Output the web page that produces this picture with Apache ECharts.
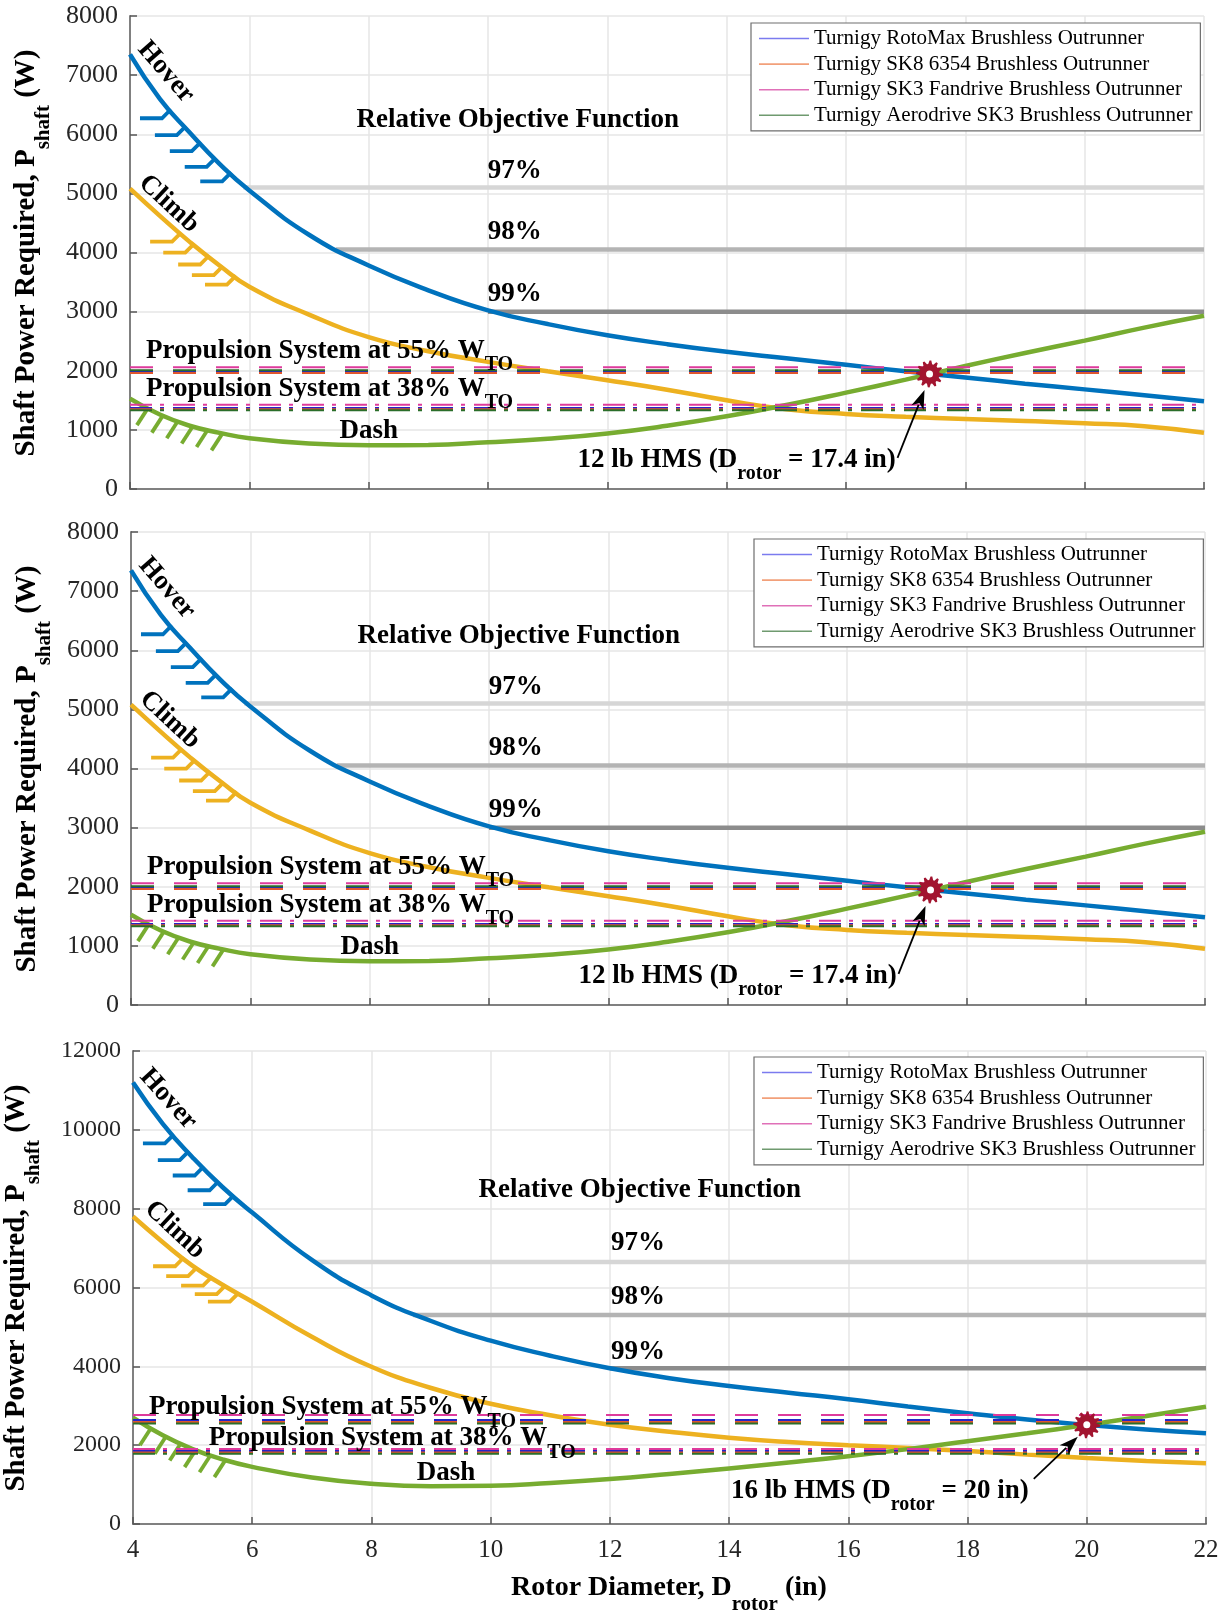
<!DOCTYPE html>
<html>
<head>
<meta charset="utf-8">
<title>Shaft power required vs rotor diameter</title>
<script src="https://cdn.jsdelivr.net/npm/echarts@6/dist/echarts.min.js"></script>
<style>
  html, body { margin: 0; padding: 0; background: #fff; }
  #chart { width: 1225px; height: 1614px; }
</style>
</head>
<body>
<div id="chart"></div>
<script>
// ---------------- data ----------------
const diameters = [4, 4.5, 5, 5.5, 6, 7, 8, 9, 10, 11, 12, 13, 14, 15, 16, 17, 18, 19, 20, 21, 22];

// 12 lb vehicle (upper two panels)
const hover12 = [7350, 6600, 6030, 5500, 5050, 4300, 3780, 3360, 3020, 2790, 2600, 2450, 2320, 2210, 2100, 1990, 1886, 1782, 1685, 1585, 1483];
const climb12 = [5080, 4620, 4180, 3780, 3420, 2950, 2570, 2330, 2150, 1990, 1840, 1680, 1500, 1350, 1270, 1222, 1185, 1150, 1112, 1060, 950];
const dash12  = [1530, 1260, 1070, 950, 860, 770, 740, 745, 790, 850, 940, 1070, 1230, 1420, 1630, 1850, 2080, 2300, 2510, 2730, 2930];

// 16 lb vehicle (lower panel)
const hover16 = [11200, 10150, 9300, 8550, 7900, 6700, 5800, 5150, 4650, 4270, 3950, 3700, 3500, 3330, 3165, 2980, 2810, 2650, 2515, 2395, 2300];
const climb16 = [7800, 7150, 6550, 6070, 5640, 4750, 3990, 3450, 3050, 2760, 2520, 2340, 2190, 2080, 2000, 1930, 1850, 1760, 1675, 1600, 1540];
const dash16  = [2700, 2250, 1900, 1640, 1450, 1180, 1020, 960, 970, 1040, 1140, 1270, 1410, 1560, 1720, 1900, 2100, 2300, 2515, 2740, 2975];

// relative objective function levels
const objLabels = ['97%', '98%', '99%'];
const objLevels12 = [5100, 4050, 3000];
const objStart12  = [5.9, 7.45, 10.0];
const objLevels16 = [6650, 5300, 3950];
const objStart16  = [7.05, 8.7, 12.0];

// motors: available shaft power at two propulsion weight fractions
const motorNames = [
  'Turnigy RotoMax Brushless Outrunner',
  'Turnigy SK8 6354 Brushless Outrunner',
  'Turnigy SK3 Fandrive Brushless Outrunner',
  'Turnigy Aerodrive SK3 Brushless Outrunner'
];
const propFractions = [55, 38];
const motor55_12 = [1985, 1960, 2060, 2010];
const motor38_12 = [1372, 1350, 1425, 1330];
const motor55_16 = [2640, 2590, 2765, 2550];
const motor38_16 = [1850, 1815, 1905, 1780];

// selected design points
const hmsLabels = ['12 lb HMS', '12 lb HMS', '16 lb HMS'];
const hmsDiam  = [17.4, 17.4, 20];
const hmsPower = [1946, 1946, 2515];

// x positions of constraint hatch marks
const hatchHover = [4.67, 4.92, 5.17, 5.42, 5.68];
const hatchClimb = [4.84, 5.06, 5.31, 5.54, 5.76];
const hatchDash  = [4.3, 4.55, 4.8, 5.05, 5.3, 5.55];

// ---------------- styling ----------------
const FONT = 'Liberation Serif';
const C_HOVER = '#0072BD', C_CLIMB = '#EDB120', C_DASH = '#77AC30', C_PT = '#A2142F';
const motorColors  = ['#2424c8', '#e0562e', '#de3a9c', '#2a6e2a'];
const legendColors = ['#7b7bef', '#f2a07a', '#e070b8', '#6f9a6f'];
const objColors = ['#d6d6d6', '#b4b4b4', '#8c8c8c'];

const grids = [
  { left: 130, top: 16,   width: 1074, height: 473 },
  { left: 131, top: 532,  width: 1074, height: 473 },
  { left: 133, top: 1051, width: 1073, height: 473 }
];
const legendPos = [[751, 23], [754, 539], [754, 1057]];

function rich(size, subSize, shift) {
  return {
    m: { fontFamily: FONT, fontWeight: 'bold', fontSize: size, lineHeight: 50, fill: '#000' },
    s: { fontFamily: FONT, fontWeight: 'bold', fontSize: subSize, lineHeight: 50, padding: [shift * 2, 0, 0, 0], fill: '#000' }
  };
}
const RICH_ANN = rich(27, 20, 14.5);

const panels = [
  { hover: hover12, climb: climb12, dash: dash12, objL: objLevels12, objS: objStart12,
    m55: motor55_12, m38: motor38_12, ymax: 8000, yint: 1000, tick: 26,
    arrow: { tip: [-5, 16], tail: [-32, 84] },
    text: { hover: [4.60, 7053, -49], climb: [4.65, 4823, -43], rel: [10.5, 6236],
            obj: [[10.45, 5383], [10.45, 4340], [10.45, 3296]],
            p55: [4.27, 2340], p38: [4.27, 1696], dash: [8.0, 988], hms: [11.5, 498] } },
  null,
  { hover: hover16, climb: climb16, dash: dash16, objL: objLevels16, objS: objStart16,
    m55: motor55_16, m38: motor38_16, ymax: 12000, yint: 2000, tick: 24,
    arrow: { tip: [-9, 12], tail: [-53, 54] },
    text: { hover: [4.59, 10781, -48], climb: [4.70, 7458, -43], rel: [12.5, 8473],
            obj: [[12.47, 7116], [12.47, 5758], [12.47, 4373]],
            p55: [4.27, 2968], p38: [5.27, 2182], dash: [9.25, 1294], hms: [14.03, 847] } }
];
panels[1] = panels[0];

function interp(xs, ys, x) {
  for (let i = 0; i < xs.length - 1; i++) {
    if (x >= xs[i] && x <= xs[i + 1]) {
      const t = (x - xs[i]) / (xs[i + 1] - xs[i]);
      return ys[i] + t * (ys[i + 1] - ys[i]);
    }
  }
  return ys[ys.length - 1];
}

// gear-shaped marker outline (pixel offsets)
const gearPts = [];
(function () {
  const teeth = 12, n = teeth * 4;
  for (let k = 0; k < n; k++) {
    const a = (k / n) * Math.PI * 2;
    const r = (k % 4 === 0 || k % 4 === 1) ? 13.5 : 10;
    gearPts.push([r * Math.cos(a), r * Math.sin(a)]);
  }
})();

const xAxes = [], yAxes = [], series = [];
const plainNumber = v => String(v);

grids.forEach((g, gi) => {
  const P = panels[gi];
  xAxes.push({
    type: 'value', gridIndex: gi, min: 4, max: 22, interval: 2,
    axisLine: { show: true, onZero: false, lineStyle: { color: '#808080', width: 2 } },
    axisTick: { show: true, inside: true, length: 7, lineStyle: { color: '#555', width: 1.5 } },
    splitLine: { show: true, lineStyle: { color: '#e6e6e6', width: 1.5 } },
    axisLabel: { show: gi === 2, fontFamily: FONT, fontSize: 25, color: '#262626', margin: 14, formatter: plainNumber }
  });
  yAxes.push({
    type: 'value', gridIndex: gi, min: 0, max: P.ymax, interval: P.yint,
    axisLine: { show: true, lineStyle: { color: '#808080', width: 2 } },
    axisTick: { show: true, inside: true, length: 7, lineStyle: { color: '#555', width: 1.5 } },
    splitLine: { show: true, lineStyle: { color: '#e6e6e6', width: 1.5 } },
    axisLabel: { fontFamily: FONT, fontSize: P.tick, color: '#262626', margin: 12, formatter: plainNumber }
  });

  const base = { xAxisIndex: gi, yAxisIndex: gi, silent: true, animation: false };

  // objective-function levels
  P.objL.forEach((lv, k) => {
    series.push(Object.assign({}, base, {
      type: 'line', name: 'obj' + objLabels[k], symbol: 'none', z: 2,
      data: [[P.objS[k], lv], [22, lv]],
      lineStyle: { color: objColors[k], width: 4.5 }
    }));
  });

  // required-power curves
  [[P.hover, C_HOVER, 'Hover'], [P.climb, C_CLIMB, 'Climb'], [P.dash, C_DASH, 'Dash']].forEach(([ys, col, nm]) => {
    series.push(Object.assign({}, base, {
      type: 'line', name: nm, symbol: 'none', z: 3, smooth: 0.5,
      data: diameters.map((d, i) => [d, ys[i]]),
      lineStyle: { color: col, width: 4.5 }
    }));
  });

  // hatch marks on the infeasible side of each constraint
  const hatchDefs = [
    { xs: hatchHover, ys: P.hover, col: C_HOVER, kind: 'bar' },
    { xs: hatchClimb, ys: P.climb, col: C_CLIMB, kind: 'bar' },
    { xs: hatchDash,  ys: P.dash,  col: C_DASH,  kind: 'slash' }
  ];
  hatchDefs.forEach(h => {
    series.push(Object.assign({}, base, {
      type: 'custom', z: 4,
      data: h.xs.map(x => [x, interp(diameters, h.ys, x)]),
      renderItem(params, api) {
        const p = api.coord([api.value(0), api.value(1)]);
        const st = { stroke: h.col, lineWidth: 3.8, lineCap: 'butt' };
        if (h.kind === 'bar') {
          return { type: 'polyline', shape: { points: [[p[0] + 1, p[1] - 1], [p[0] - 8, p[1] + 8], [p[0] - 30, p[1] + 8]] }, style: Object.assign({ fill: null }, st) };
        }
        return { type: 'line', shape: { x1: p[0], y1: p[1], x2: p[0] - 11, y2: p[1] + 17 }, style: st };
      }
    }));
  });

  // motor power available (dashed: 55 %, dash-dot: 38 %)
  motorNames.forEach((nm, k) => {
    [[P.m55[k], [23, 20]], [P.m38[k], [22, 8, 4, 9]]].forEach(([v, pat]) => {
      series.push(Object.assign({}, base, {
        type: 'line', name: nm, symbol: 'none', z: 5,
        data: [[4, v], [22, v]],
        itemStyle: { color: motorColors[k] },
        lineStyle: { color: motorColors[k], width: 2, type: pat }
      }));
    });
  });

  // design point with pointer arrow
  series.push(Object.assign({}, base, {
    type: 'custom', z: 8,
    data: [[hmsDiam[gi], hmsPower[gi]]],
    renderItem(params, api) {
      const p = api.coord([api.value(0), api.value(1)]);
      const tip = [p[0] + P.arrow.tip[0], p[1] + P.arrow.tip[1]];
      const tail = [p[0] + P.arrow.tail[0], p[1] + P.arrow.tail[1]];
      const dx = tip[0] - tail[0], dy = tip[1] - tail[1];
      const len = Math.hypot(dx, dy), ux = dx / len, uy = dy / len;
      const hl = 19, hw = 6.5;
      const b = [tip[0] - ux * hl, tip[1] - uy * hl];
      return {
        type: 'group', children: [
          { type: 'line', shape: { x1: tail[0], y1: tail[1], x2: b[0] + ux * 3, y2: b[1] + uy * 3 }, style: { stroke: '#000', lineWidth: 1.8 } },
          { type: 'polygon', shape: { points: [tip, [b[0] - uy * hw, b[1] + ux * hw], [b[0] + ux * 5, b[1] + uy * 5], [b[0] + uy * hw, b[1] - ux * hw]] }, style: { fill: '#000' } },
          { type: 'polygon', shape: { points: gearPts.map(q => [p[0] + q[0], p[1] + q[1]]) }, style: { fill: C_PT } },
          { type: 'circle', shape: { cx: p[0], cy: p[1], r: 3.5 }, style: { fill: '#fff' } }
        ]
      };
    }
  }));

  // annotations
  const T = P.text;
  const items = [
    { pos: T.hover, text: '{m|Hover}', rot: T.hover[2], align: 'center' },
    { pos: T.climb, text: '{m|Climb}', rot: T.climb[2], align: 'center' },
    { pos: T.rel, text: '{m|Relative Objective Function}', align: 'center' },
    { pos: T.obj[0], text: '{m|' + objLabels[0] + '}', align: 'center' },
    { pos: T.obj[1], text: '{m|' + objLabels[1] + '}', align: 'center' },
    { pos: T.obj[2], text: '{m|' + objLabels[2] + '}', align: 'center' },
    { pos: T.p55, text: '{m|Propulsion System at ' + propFractions[0] + '% W}{s|TO}', align: 'left' },
    { pos: T.p38, text: '{m|Propulsion System at ' + propFractions[1] + '% W}{s|TO}', align: 'left' },
    { pos: T.dash, text: '{m|Dash}', align: 'center' },
    { pos: T.hms, text: '{m|' + hmsLabels[gi] + ' (D}{s|rotor}{m| = ' + hmsDiam[gi] + ' in)}', align: 'left' }
  ];
  series.push(Object.assign({}, base, {
    type: 'custom', z: 10,
    data: items.map(t => [t.pos[0], t.pos[1]]),
    renderItem(params, api) {
      const t = items[params.dataIndex];
      const p = api.coord([api.value(0), api.value(1)]);
      return {
        type: 'text', x: p[0], y: p[1], rotation: (t.rot || 0) * Math.PI / 180,
        style: { text: t.text, rich: RICH_ANN, align: t.align, verticalAlign: 'middle',
                 fontFamily: FONT, fontWeight: 'bold', fontSize: 27, fill: '#000' }
      };
    }
  }));
});

const RICH_Y = rich(29, 21, 17);
const yTitle = '{m|Shaft Power Required, P}{s|shaft}{m| (W)}';
const graphic = [
  { type: 'text', x: 27, y: 253, rotation: Math.PI / 2, style: { text: yTitle, rich: RICH_Y, align: 'center', verticalAlign: 'middle' } },
  { type: 'text', x: 28, y: 769, rotation: Math.PI / 2, style: { text: yTitle, rich: RICH_Y, align: 'center', verticalAlign: 'middle' } },
  { type: 'text', x: 17, y: 1288, rotation: Math.PI / 2, style: { text: yTitle, rich: RICH_Y, align: 'center', verticalAlign: 'middle' } },
  { type: 'text', x: 669, y: 1588, style: { text: '{m|Rotor Diameter, D}{s|rotor}{m| (in)}', rich: rich(28, 21, 17), align: 'center', verticalAlign: 'middle' } }
];

const legends = legendPos.map(pos => ({
  orient: 'vertical', left: pos[0], top: pos[1],
  data: motorNames.map((n, k) => ({ name: n, itemStyle: { color: legendColors[k] } })),
  icon: 'rect', itemWidth: 50, itemHeight: 1.6, itemGap: 4.6,
  textStyle: { fontFamily: FONT, fontSize: 21, color: '#000' },
  borderColor: '#6e6e6e', borderWidth: 1.2, backgroundColor: '#fff',
  padding: [5, 8, 5, 8], selectedMode: false
}));

const chart = echarts.init(document.getElementById('chart'));
chart.setOption({
  animation: false,
  backgroundColor: '#fff',
  grid: grids,
  xAxis: xAxes,
  yAxis: yAxes,
  legend: legends,
  series: series,
  graphic: graphic
});
</script>
</body>
</html>
